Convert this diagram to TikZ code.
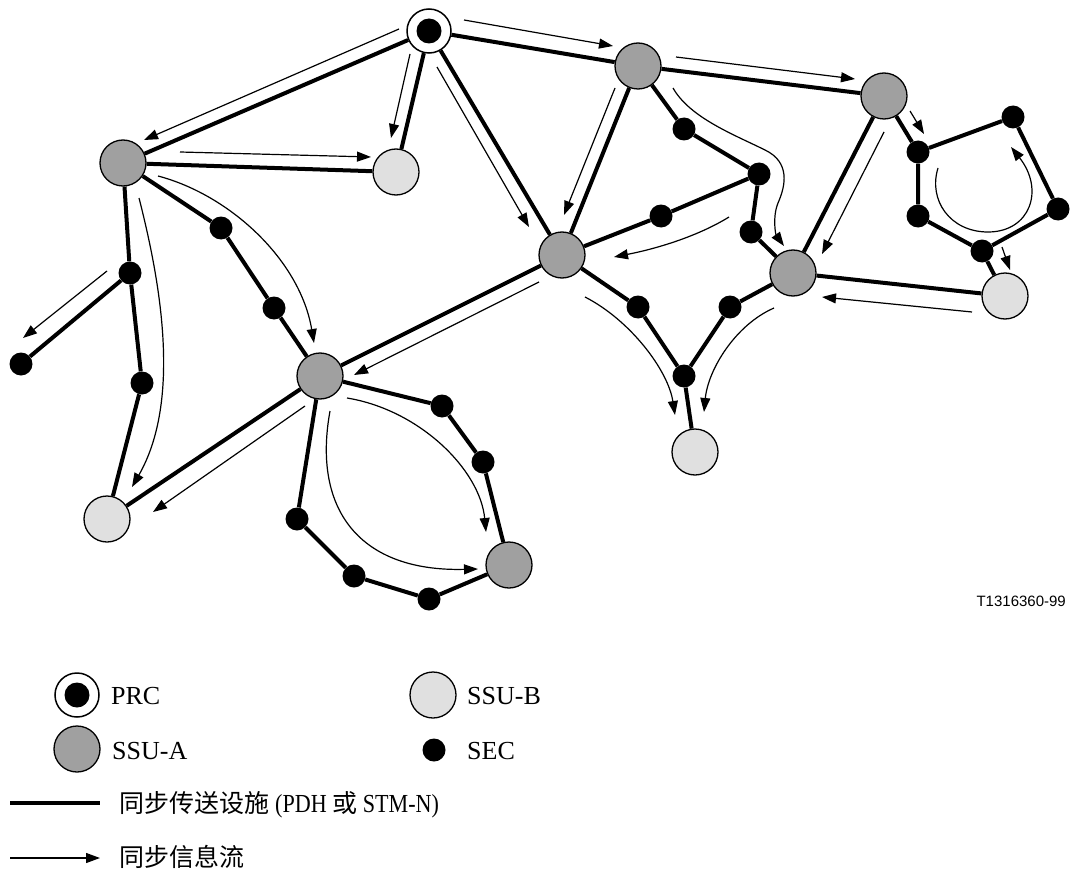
\documentclass[tikz,border=0pt]{standalone}
\usepackage{fontspec}
\setmainfont{Liberation Serif}
\newfontfamily\cjk{Noto Sans CJK SC}
\newfontfamily\arialf{Liberation Sans}
\newfontfamily\condserif[FakeStretch=0.85]{Liberation Serif}
\usetikzlibrary{arrows.meta,backgrounds}
\definecolor{ssuagray}{HTML}{A0A0A0}
\definecolor{ssubgray}{HTML}{E0E0E0}
\begin{document}
\begin{tikzpicture}[x=1pt,y=-1pt,
 prc/.style={circle,draw,line width=1.5pt,fill=white,minimum size=44pt,inner sep=0pt},
 prcin/.style={circle,fill=black,minimum size=25pt,inner sep=0pt},
 ssua/.style={circle,draw,line width=1.3pt,fill=ssuagray,minimum size=46pt,inner sep=0pt},
 ssub/.style={circle,draw,line width=1.3pt,fill=ssubgray,minimum size=46pt,inner sep=0pt},
 sec/.style={circle,fill=black,minimum size=23pt,inner sep=0pt},
 link/.style={line width=4pt},
 flow/.style={line width=1.2pt,-{Triangle[length=14pt,width=10pt]}},
 lbl/.style={anchor=base west,inner sep=0pt,font=\fontsize{26}{30}\selectfont}
]
\useasboundingbox (0,0) rectangle (1070,869);

% main nodes
\node[prc]  (PRC) at (429,31) {};
\node[prcin] (PRCin) at (PRC) {};
\node[ssua] (A1) at (123,163) {};
\node[ssua] (A2) at (638,66) {};
\node[ssua] (A3) at (884,96) {};
\node[ssua] (A4) at (562,255) {};
\node[ssua] (A5) at (793,273) {};
\node[ssua] (A6) at (320,376) {};
\node[ssua] (A7) at (509,565) {};
\node[ssub] (B1) at (396,172) {};
\node[ssub] (B2) at (107,519) {};
\node[ssub] (B3) at (1005,296) {};
\node[ssub] (B4) at (695,452) {};
% SEC nodes
\node[sec] (s1) at (130,273) {};
\node[sec] (s2) at (142,383) {};
\node[sec] (s3) at (21,364) {};
\node[sec] (s4) at (221,228) {};
\node[sec] (s5) at (274,308) {};
\node[sec] (s6) at (684,129) {};
\node[sec] (s7) at (759,174) {};
\node[sec] (s8) at (661,216) {};
\node[sec] (s9) at (751,232) {};
\node[sec] (s10) at (638,307) {};
\node[sec] (s11) at (730,307) {};
\node[sec] (s12) at (684,376) {};
\node[sec] (p1) at (918,152) {};
\node[sec] (p2) at (1013,117) {};
\node[sec] (p3) at (1058,209) {};
\node[sec] (p4) at (982,251) {};
\node[sec] (p5) at (918,216) {};
\node[sec] (r1) at (442,406) {};
\node[sec] (r2) at (483,462) {};
\node[sec] (r3) at (297,519) {};
\node[sec] (r4) at (354,576) {};
\node[sec] (r5) at (429,599) {};

% links
\begin{scope}[on background layer]
\draw[link] (PRC) -- (A1);
\draw[link] (PRC) -- (B1);
\draw[link] (PRC) -- (A4);
\draw[link] (PRC) -- (A2);
\draw[link] (A1) -- (B1);
\draw[link] (A1) -- (s1) -- (s2) -- (B2);
\draw[link] (s1) -- (s3);
\draw[link] (A1) -- (s4) -- (s5) -- (A6);
\draw[link] (A2) -- (A3);
\draw[link] (A2) -- (A4);
\draw[link] (A2) -- (s6) -- (s7) -- (s8) -- (A4);
\draw[link] (s7) -- (s9) -- (A5);
\draw[link] (A3) -- (A5);
\draw[link] (A3) -- (p1) -- (p2) -- (p3) -- (p4) -- (p5) -- (p1);
\draw[link] (p4) -- (B3);
\draw[link] (A5) -- (B3);
\draw[link] (A4) -- (A6);
\draw[link] (A6) -- (B2);
\draw[link] (A4) -- (s10) -- (s12) -- (s11) -- (A5);
\draw[link] (s12) -- (B4);
\draw[link] (A6) -- (r1) -- (r2) -- (A7);
\draw[link] (A6) -- (r3) -- (r4) -- (r5) -- (A7);
\end{scope}

% flow arrow end points
\coordinate (f1a) at (399,29);  \coordinate (f1b) at (144,140);
\coordinate (f2a) at (410,54);  \coordinate (f2b) at (391,138);
\coordinate (f3a) at (437,67);  \coordinate (f3b) at (529,227);
\coordinate (f4a) at (180,152); \coordinate (f4b) at (371,157);
\coordinate (f5a) at (464,20);  \coordinate (f5b) at (613,46);
\coordinate (f6a) at (676,57);  \coordinate (f6b) at (855,79);
\coordinate (f7a) at (615,88);  \coordinate (f7b) at (564,215);
\coordinate (f8a) at (673,88);  \coordinate (f8b) at (784,246);
\coordinate (f9a) at (729,217); \coordinate (f9b) at (614,257);
\coordinate (f10a) at (884,132); \coordinate (f10b) at (822,254);
\coordinate (f11a) at (910,111); \coordinate (f11b) at (924,134);
\coordinate (f12a) at (938,168); \coordinate (f12b) at (1011,147);
\coordinate (f13a) at (1002,247); \coordinate (f13b) at (1010,270);
\coordinate (f14a) at (972,312); \coordinate (f14b) at (822,297);
\coordinate (f15a) at (585,297); \coordinate (f15b) at (675,415);
\coordinate (f16a) at (774,308); \coordinate (f16b) at (704,412);
\coordinate (f17a) at (539,282); \coordinate (f17b) at (354,375);
\coordinate (f18a) at (305,406); \coordinate (f18b) at (153,512);
\coordinate (f19a) at (107,271); \coordinate (f19b) at (23,338);
\coordinate (f20a) at (139,198); \coordinate (f20b) at (132,487);
\coordinate (f21a) at (158,176); \coordinate (f21b) at (314,343);
\coordinate (f22a) at (347,398); \coordinate (f22b) at (486,532);
\coordinate (f23a) at (330,411); \coordinate (f23b) at (478,569);

\draw[flow] (f1a) -- (f1b);
\draw[flow] (f2a) -- (f2b);
\draw[flow] (f3a) -- (f3b);
\draw[flow] (f4a) -- (f4b);
\draw[flow] (f5a) -- (f5b);
\draw[flow] (f6a) -- (f6b);
\draw[flow] (f7a) -- (f7b);
\draw[flow] (f8a) .. controls (690,118) and (735,135) .. (765,150)
   .. controls (790,162) and (786,185) .. (778,203)
   .. controls (772,218) and (776,235) .. (f8b);
\draw[flow] (f9a) .. controls (700,235) and (660,248) .. (f9b);
\draw[flow] (f10a) -- (f10b);
\draw[flow] (f11a) -- (f11b);
\draw[flow] (f12a) .. controls (928,200) and (950,232) .. (988,232)
   .. controls (1030,232) and (1045,190) .. (f12b);
\draw[flow] (f13a) -- (f13b);
\draw[flow] (f14a) -- (f14b);
\draw[flow] (f15a) .. controls (630,320) and (668,370) .. (f15b);
\draw[flow] (f16a) .. controls (735,325) and (708,370) .. (f16b);
\draw[flow] (f17a) -- (f17b);
\draw[flow] (f18a) -- (f18b);
\draw[flow] (f19a) -- (f19b);
\draw[flow] (f20a) .. controls (160,280) and (182,400) .. (f20b);
\draw[flow] (f21a) .. controls (230,195) and (300,260) .. (f21b);
\draw[flow] (f22a) .. controls (420,410) and (480,470) .. (f22b);
\draw[flow] (f23a) .. controls (312,510) and (360,572) .. (f23b);

% figure id
\node[anchor=base east,inner sep=0pt,font=\arialf\fontsize{15}{18}\selectfont] (fid) at (1066,606) {T1316360-99};

% legend
\node[prc]  (Lprc) at (77,695) {};
\node[prcin] (Lprcin) at (Lprc) {};
\node[ssua] (Lssua) at (77,749) {};
\node[ssub] (Lssub) at (433,695) {};
\node[sec]  (Lsec) at (434,750) {};
\node[lbl] (tprc) at (111,704) {PRC};
\node[lbl] (tssua) at (112,759) {SSU-A};
\node[lbl] (tssub) at (467,704) {SSU-B};
\node[lbl] (tsec) at (467,759) {SEC};
\coordinate (La1) at (10,803); \coordinate (La2) at (100,803);
\coordinate (Lb1) at (10,858); \coordinate (Lb2) at (100,858);
\draw[link] (La1) -- (La2);
\draw[flow] (Lb1) -- (Lb2);
\node[lbl,font=\fontsize{26}{30}\selectfont\condserif] (tlink) at (119,812) {{\fontsize{25}{30}\selectfont\cjk 同步传送设施}\hspace{6pt}(PDH {\fontsize{25}{30}\selectfont\cjk 或} STM-N)};
\node[lbl,font=\fontsize{25}{30}\selectfont] (tflow) at (119,866) {\cjk 同步信息流};
\end{tikzpicture}
\end{document}
